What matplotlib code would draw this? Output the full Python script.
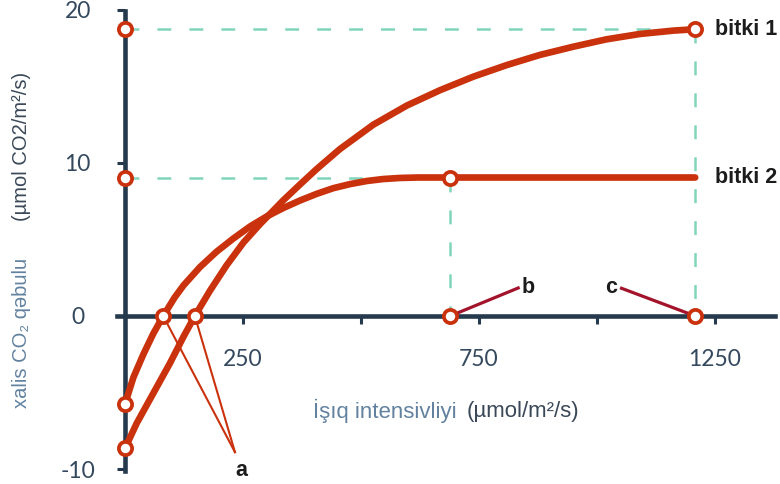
import matplotlib
matplotlib.use("Agg")
import matplotlib.pyplot as plt

# light response curves (x: umol/m2/s, y: net CO2 uptake)
bitki1_x = [0, 25, 60, 95, 124, 148, 180, 215, 251, 286, 312, 335, 371, 406,
            455, 526, 597, 667, 738, 809, 879, 950, 1020, 1091, 1162, 1208]
bitki1_y = [-8.65, -7.0, -5.05, -3.1, -1.35, 0, 1.65, 3.3, 4.8, 6.0, 6.82,
            7.55, 8.6, 9.6, 10.9, 12.5, 13.75, 14.75, 15.64, 16.4, 17.06,
            17.6, 18.08, 18.43, 18.65, 18.74]

bitki2_x = [0, 18, 39, 60, 81, 105, 124, 159, 194, 229, 265, 300, 335, 371,
            406, 441, 477, 512, 547, 582, 620, 689, 1208]
bitki2_y = [-5.75, -4.0, -2.5, -1.15, 0, 1.2, 2.0, 3.2, 4.2, 5.05, 5.85, 6.5,
            7.05, 7.55, 7.98, 8.35, 8.62, 8.82, 8.95, 9.02, 9.05, 9.05, 9.05]

# compensation points (a), saturation points (b, c)
comp_x = [81, 148]
sat_x = [689, 1208]
sat_y = [9.05, 18.74]

xticks = [250, 500, 750, 1000, 1250]
xtick_labels = ["250", "", "750", "", "1250"]
yticks = [-10, 0, 10, 20]
ytick_labels = ["-10", "0", "10", "20"]

red = "#c9320c"
dark_red = "#a3142c"
navy = "#263a4e"
mint = "#80d5bb"
steel = "#62829f"
label_dark = "#3a4858"

plt.rcParams["lines.scale_dashes"] = False

fig = plt.figure(figsize=(7.8, 4.84), dpi=100)
ax = fig.add_axes([0, 0, 1, 1])
ax.set_xlim(-264.8, 1387.7)
ax.set_ylim(-10.98, 20.65)

# axes through the origin
for side in ["top", "right"]:
    ax.spines[side].set_visible(False)
ax.spines["left"].set_position(("data", 0))
ax.spines["bottom"].set_position(("data", 0))
ax.spines["left"].set_bounds(-10.15, 19.9)
ax.spines["bottom"].set_bounds(-17, 1377)
for side in ["left", "bottom"]:
    ax.spines[side].set_color(navy)
    ax.spines[side].set_linewidth(3.3)
    ax.spines[side].set_zorder(2)

ax.set_xticks(xticks)
ax.set_xticklabels(xtick_labels)
ax.set_yticks(yticks)
ax.set_yticklabels(ytick_labels)
ax.tick_params(axis="x", direction="out", length=6, width=2.2, color=navy,
               pad=18, labelsize=16.5, labelcolor="#34495e")
ax.tick_params(axis="y", direction="out", length=6, width=2.2, color=navy,
               pad=28, labelsize=16.5, labelcolor="#34495e")
for lab in ax.get_xticklabels() + ax.get_yticklabels():
    lab.set_family("Lato")
for lab in ax.get_yticklabels():
    lab.set_ha("center")

# guide lines to the saturation points
for sx, sy in zip(sat_x, sat_y):
    ax.plot([0, sx], [sy, sy], color=mint, lw=1.8, dashes=(10, 13), zorder=1)
    ax.plot([sx, sx], [sy, 0], color=mint, lw=1.8, dashes=(10, 13), zorder=1)

# curves
for xs, ys in [(bitki1_x, bitki1_y), (bitki2_x, bitki2_y)]:
    ax.plot(xs, ys, color=red, lw=4.8, solid_capstyle="round",
            solid_joinstyle="round", zorder=3)

# pointer lines for a, b, c
for cx in comp_x:
    ax.plot([cx, 233], [0, -8.9], color=red, lw=1.5, zorder=3)
ax.plot([sat_x[0], 833], [0, 1.83], color=dark_red, lw=2.3, zorder=3)
ax.plot([1052, sat_x[1]], [1.81, 0], color=dark_red, lw=2.3, zorder=3)

# open circles
circ_x = [0, 0, 0, 0] + comp_x + sat_x + sat_x
circ_y = [bitki1_y[0], bitki2_y[0], sat_y[0], sat_y[1], 0, 0, 0, 0] + sat_y
ax.plot(circ_x, circ_y, "o", mfc="white", mec=red, ms=9.5, mew=2.7,
        zorder=5, clip_on=False)

bold = dict(family="Liberation Sans", fontweight="bold", fontsize=15.5,
            color="#1c1c1c")
ax.text(1250, sat_y[1], "bitki 1", ha="left", va="center", **bold)
ax.text(1250, sat_y[0], "bitki 2", ha="left", va="center", **bold)
ax.text(246, -10.1, "a", ha="center", va="center", **bold)
ax.text(854, 1.83, "b", ha="center", va="center", **bold)
ax.text(1030, 1.83, "c", ha="center", va="center", **bold)

# axis titles
fam = ["Liberation Sans", "DejaVu Sans"]
fig.text(313 / 780, 1 - 411 / 484, "İşıq intensivliyi", color=steel,
         fontsize=16, family=fam, ha="left", va="center")
fig.text(467 / 780, 1 - 411 / 484, "(µmol/m²/s)", color=label_dark,
         fontsize=16, family=fam, ha="left", va="center")
fig.text(22 / 780, 1 - 408 / 484, "xalis CO₂ qəbulu", color=steel,
         fontsize=14.5, family=fam, rotation=90, ha="center", va="bottom")
fig.text(22 / 780, 1 - 72 / 484, "(µmol CO2/m²/s)", color=label_dark,
         fontsize=14.5, family=fam, rotation=90, ha="center", va="top")

fig.savefig("out.png", dpi=100, facecolor="white")
